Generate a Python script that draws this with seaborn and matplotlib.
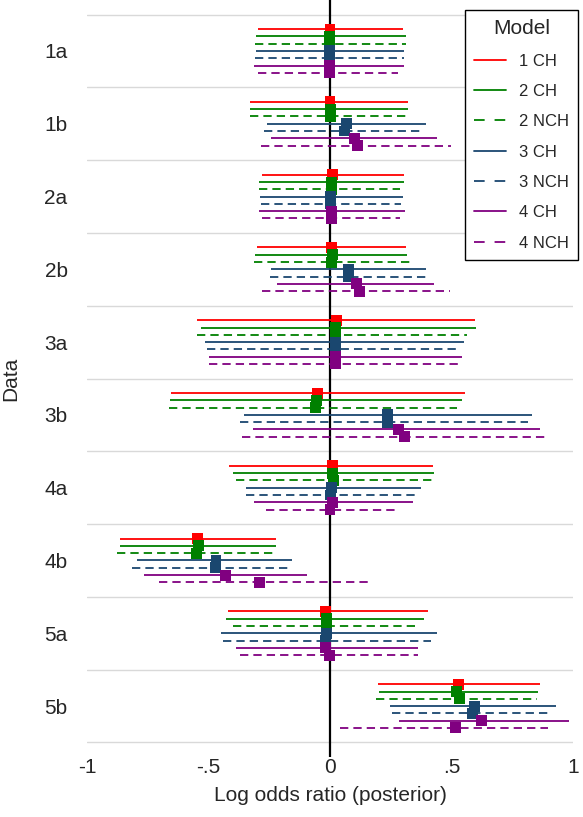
import numpy as np
import pandas as pd
import matplotlib
matplotlib.use("Agg")
import matplotlib.pyplot as plt
import seaborn as sns
from matplotlib.lines import Line2D

# data sets (rows) and models (series)
datasets = ["1a", "1b", "2a", "2b", "3a", "3b", "4a", "4b", "5a", "5b"]
models = ["1 CH", "2 CH", "2 NCH", "3 CH", "3 NCH", "4 CH", "4 NCH"]

# posterior estimate, one list per data set, in model order
est = {
    "1a": [0.000, -0.003, -0.003, -0.003, -0.003, -0.003, -0.003],
    "1b": [0.000, 0.004, 0.004, 0.069, 0.059, 0.099, 0.114],
    "2a": [0.010, 0.008, 0.008, 0.004, 0.004, 0.008, 0.008],
    "2b": [0.008, 0.011, 0.006, 0.075, 0.075, 0.110, 0.123],
    "3a": [0.025, 0.022, 0.022, 0.022, 0.022, 0.022, 0.022],
    "3b": [-0.051, -0.054, -0.059, 0.235, 0.235, 0.281, 0.306],
    "4a": [0.011, 0.011, 0.014, 0.007, 0.003, 0.009, 0.000],
    "4b": [-0.545, -0.542, -0.549, -0.469, -0.473, -0.429, -0.291],
    "5a": [-0.018, -0.014, -0.014, -0.014, -0.018, -0.018, -0.003],
    "5b": [0.530, 0.521, 0.532, 0.593, 0.587, 0.624, 0.518],
}
# lower / upper interval limits
lower = {
    "1a": [-0.295, -0.305, -0.309, -0.305, -0.310, -0.313, -0.297],
    "1b": [-0.329, -0.329, -0.330, -0.258, -0.272, -0.244, -0.285],
    "2a": [-0.278, -0.291, -0.293, -0.289, -0.285, -0.291, -0.281],
    "2b": [-0.299, -0.309, -0.313, -0.243, -0.247, -0.219, -0.281],
    "3a": [-0.546, -0.532, -0.546, -0.514, -0.508, -0.496, -0.496],
    "3b": [-0.654, -0.658, -0.663, -0.353, -0.370, -0.318, -0.361],
    "4a": [-0.416, -0.401, -0.388, -0.347, -0.347, -0.311, -0.265],
    "4b": [-0.864, -0.864, -0.875, -0.796, -0.814, -0.764, -0.702],
    "5a": [-0.418, -0.428, -0.401, -0.447, -0.439, -0.388, -0.370],
    "5b": [0.196, 0.200, 0.189, 0.247, 0.254, 0.284, 0.041],
}
upper = {
    "1a": [0.302, 0.311, 0.311, 0.304, 0.304, 0.304, 0.281],
    "1b": [0.320, 0.322, 0.329, 0.394, 0.387, 0.439, 0.497],
    "2a": [0.305, 0.306, 0.288, 0.301, 0.294, 0.308, 0.288],
    "2b": [0.313, 0.318, 0.329, 0.394, 0.402, 0.428, 0.494],
    "3a": [0.597, 0.601, 0.563, 0.551, 0.528, 0.545, 0.538],
    "3b": [0.556, 0.545, 0.524, 0.833, 0.816, 0.864, 0.901],
    "4a": [0.425, 0.429, 0.418, 0.373, 0.361, 0.340, 0.274],
    "4b": [-0.222, -0.222, -0.222, -0.155, -0.155, -0.096, 0.165],
    "5a": [0.402, 0.388, 0.366, 0.439, 0.416, 0.361, 0.361],
    "5b": [0.864, 0.858, 0.851, 0.930, 0.912, 0.985, 0.898],
}

colors = {"1 CH": "#ff0000", "2 CH": "#008000", "2 NCH": "#008000",
          "3 CH": "#1a476f", "3 NCH": "#1a476f", "4 CH": "#800080", "4 NCH": "#800080"}
dashed = {"1 CH": False, "2 CH": False, "2 NCH": True, "3 CH": False,
          "3 NCH": True, "4 CH": False, "4 NCH": True}
dash_ls = (0, (4.6, 2.8))
dash_leg = (0, (5.9, 5.5))

rows = []
for g, d in enumerate(datasets):
    for m, name in enumerate(models):
        rows.append({"data": d, "model": name, "est": est[d][m],
                     "lo": lower[d][m], "hi": upper[d][m],
                     "ypos": g * 10 + 2 + m})
df = pd.DataFrame(rows)

sns.set_style("white")
plt.rcParams["font.family"] = ["Liberation Sans", "DejaVu Sans"]

fig = plt.figure(figsize=(5.83, 8.17), dpi=100)
ax = fig.add_axes([0.1492, 0.0734, 0.8336, 0.9266])

# separators between data sets
for b in range(len(datasets) + 1):
    ax.axhline(b * 10, color="#d9d9d9", lw=1.0, zorder=0)

ax.axvline(0, color="black", lw=1.6, zorder=1)

for _, r in df.iterrows():
    ax.hlines(r["ypos"], r["lo"], r["hi"], color=colors[r["model"]], lw=1.3,
              linestyles=dash_ls if dashed[r["model"]] else "solid", zorder=2)

sns.scatterplot(data=df, x="est", y="ypos", hue="model", palette=colors,
                marker="s", s=62, linewidth=0, legend=False, ax=ax, zorder=3)

ax.set_xlim(-1, 1)
ax.set_ylim(102, -2)
ax.set_xticks([-1, -0.5, 0, 0.5, 1])
ax.set_xticklabels(["-1", "-.5", "0", ".5", "1"], fontsize=15)
ax.set_yticks([g * 10 + 5 for g in range(len(datasets))])
ax.set_yticklabels(datasets, fontsize=15)
ax.tick_params(axis="x", length=0, pad=1)
ax.tick_params(axis="y", length=0, pad=14)
ax.set_xlabel("Log odds ratio (posterior)", fontsize=15, labelpad=6)
ax.set_ylabel("Data", fontsize=15, labelpad=17)
for s in ax.spines.values():
    s.set_visible(False)

handles = [Line2D([0], [0], color=colors[m], lw=1.3,
                  linestyle=dash_leg if dashed[m] else "solid") for m in models]
leg = ax.legend(handles, models, title="Model", loc="upper right",
                bbox_to_anchor=(578 / 583, 1 - 10 / 817),
                bbox_transform=fig.transFigure, borderaxespad=0,
                fontsize=12, title_fontsize=15,
                frameon=True, fancybox=False, framealpha=1,
                edgecolor="black", handlelength=1.9, handletextpad=0.8,
                labelspacing=0.92, borderpad=0.55)
leg.get_frame().set_linewidth(1.0)

fig.savefig("out.png", dpi=100)
